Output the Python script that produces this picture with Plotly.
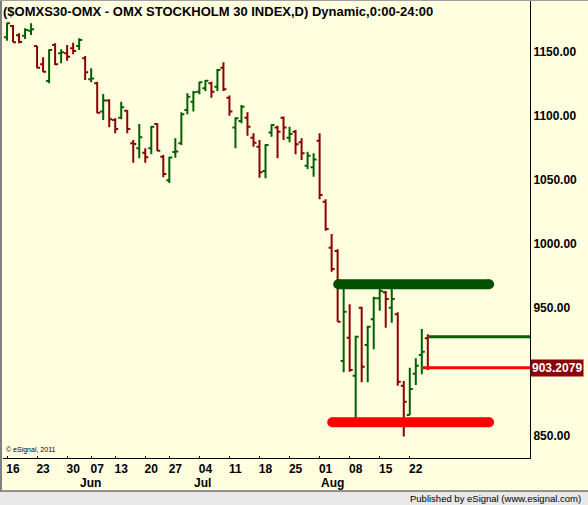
import pandas as pd
import plotly.graph_objects as go

title_text = "($OMXS30-OMX - OMX STOCKHOLM 30 INDEX,D) Dynamic,0:00-24:00"

# trading days (Stockholm closed on 2 Jun, 6 Jun, 24 Jun)
holidays = ["2011-06-02", "2011-06-06", "2011-06-24"]
dates = [d for d in pd.bdate_range("2011-05-16", "2011-08-25")
         if d.strftime("%Y-%m-%d") not in holidays]

opens = [1161.5, 1170.3, 1163.0, 1162.7, 1166.6, 1154.7, 1140.4, 1127.3, 1155.5, 1149.0,
         1149.0, 1152.9, 1154.7, 1145.1, 1128.6, 1125.5, 1103.4, 1112.0, 1096.9, 1098.7,
         1104.1, 1078.7, 1074.8, 1071.3, 1074.8, 1093.8, 1068.2, 1049.8, 1071.9, 1078.7,
         1104.7, 1111.2, 1119.0, 1121.6, 1125.5, 1122.9, 1137.7, 1114.3, 1090.9, 1096.1,
         1098.7, 1083.0, 1076.0, 1057.0, 1087.0, 1090.9, 1098.7, 1083.0, 1087.7, 1079.5,
         1061.2, 1060.0, 1080.6, 1033.0, 997.1, 994.5, 908.6, 926.8, 897.1, 950.2,
         921.1, 941.2, 957.6, 962.3, 950.2, 945.1, 889.3, 866.4, 898.7, 913.3,
         926.3]
highs = [1172.9, 1171.1, 1164.6, 1168.5, 1172.4, 1154.7, 1145.9, 1152.1, 1156.8, 1152.1,
         1155.5, 1157.3, 1160.7, 1146.9, 1137.3, 1126.8, 1117.2, 1113.0, 1098.2, 1111.2,
         1104.7, 1081.3, 1093.8, 1074.8, 1092.2, 1094.3, 1069.5, 1068.2, 1082.6, 1102.9,
         1117.7, 1119.5, 1126.8, 1128.1, 1126.8, 1136.7, 1142.0, 1115.9, 1099.0, 1108.6,
         1102.9, 1086.5, 1081.3, 1077.9, 1093.5, 1092.4, 1099.5, 1091.6, 1089.1, 1082.6,
         1072.1, 1070.9, 1086.5, 1035.0, 1007.8, 995.9, 965.4, 952.9, 928.4, 951.0,
         936.2, 958.8, 966.0, 963.3, 965.4, 946.6, 893.0, 903.4, 910.7, 933.6,
         929.5]
lows = [1158.8, 1157.6, 1156.8, 1160.2, 1163.3, 1137.3, 1134.1, 1125.5, 1139.8, 1141.2,
        1143.2, 1148.2, 1151.6, 1128.1, 1126.3, 1102.1, 1096.9, 1091.2, 1086.5, 1097.4,
        1086.5, 1063.5, 1067.0, 1063.5, 1070.1, 1072.7, 1052.1, 1047.7, 1067.4, 1077.3,
        1101.3, 1103.4, 1117.0, 1119.5, 1114.3, 1119.5, 1119.5, 1100.2, 1074.8, 1094.3,
        1084.6, 1076.0, 1051.8, 1051.3, 1083.8, 1067.0, 1081.3, 1079.5, 1070.1, 1065.6,
        1058.6, 1052.6, 1035.0, 1010.4, 978.4, 939.3, 899.8, 900.2, 859.1, 892.0,
        892.0, 917.7, 947.9, 934.6, 938.5, 889.3, 849.5, 866.4, 889.8, 898.2,
        901.6]
closes = [1172.4, 1157.6, 1157.8, 1167.2, 1167.7, 1137.7, 1134.6, 1151.6, 1140.4, 1149.8,
          1146.3, 1150.8, 1159.4, 1134.1, 1129.2, 1102.6, 1112.0, 1097.4, 1089.8, 1106.8,
          1089.8, 1078.1, 1083.4, 1067.7, 1091.6, 1072.9, 1054.7, 1067.6, 1072.3, 1101.3,
          1115.1, 1118.5, 1126.3, 1127.6, 1119.0, 1135.9, 1120.9, 1103.4, 1098.2, 1107.3,
          1091.6, 1079.1, 1056.0, 1077.3, 1093.0, 1087.7, 1090.9, 1085.9, 1077.9, 1070.9,
          1069.0, 1065.9, 1038.3, 1011.7, 980.5, 939.3, 947.1, 901.6, 927.6, 904.1,
          935.4, 957.6, 963.3, 957.0, 957.0, 892.4, 876.8, 886.7, 904.9, 915.9,
          903.2079]

resistance_level = 968.5
resistance_span = [55.1, 80.2]
support_level = 860.7
support_span = [54.1, 80.2]
upper_line_level = 927.6
upper_line_start = 70.2
last_close = closes[-1]

y_ticks = [850, 900, 950, 1000, 1050, 1100, 1150]

BG = "#FFFFE0"
UP = "#006000"
DOWN = "#8B0000"

x_idx = list(range(len(dates)))
x_lo, x_hi = -0.67, 87.0
y_lo, y_hi = 832.8, 1190.6

# week ticks: first trading day of every week
week_ticks, week_text = [], []
for i, d in enumerate(dates):
    if i == 0 or d.isocalendar()[1] != dates[i - 1].isocalendar()[1]:
        week_ticks.append(i)
        week_text.append(d.strftime("%d"))
month_ticks, month_text = [], []
for i, d in enumerate(dates):
    if i > 0 and d.month != dates[i - 1].month:
        month_ticks.append(i)
        month_text.append(d.strftime("%b"))

fig = go.Figure()

# horizontal zones (thick with round ends)
fig.add_trace(go.Scatter(
    x=resistance_span, y=[resistance_level] * 2, mode="lines+markers",
    line=dict(color="#005000", width=10), marker=dict(color="#005000", size=10),
    hoverinfo="skip", showlegend=False))
fig.add_trace(go.Scatter(
    x=support_span, y=[support_level] * 2, mode="lines+markers",
    line=dict(color="#FF0000", width=10), marker=dict(color="#FF0000", size=10),
    hoverinfo="skip", showlegend=False))
fig.add_trace(go.Scatter(
    x=[upper_line_start, x_hi], y=[upper_line_level] * 2, mode="lines",
    line=dict(color=UP, width=3), hoverinfo="skip", showlegend=False))
fig.add_trace(go.Scatter(
    x=[x_idx[-2] + 0.2, x_hi], y=[last_close] * 2, mode="lines",
    line=dict(color="#FF0000", width=3), hoverinfo="skip", showlegend=False))

fig.add_trace(go.Ohlc(
    x=x_idx, open=opens, high=highs, low=lows, close=closes,
    increasing_line_color=UP, decreasing_line_color=DOWN,
    line_width=2, tickwidth=0.5, showlegend=False))

bold12 = dict(family="Liberation Sans, Arial", size=12, color="black", weight="bold")

fig.update_layout(
    width=588, height=505,
    margin=dict(l=3, r=58, t=0, b=47),
    paper_bgcolor=BG, plot_bgcolor=BG,
    showlegend=False,
    xaxis=dict(range=[x_lo, x_hi], tickvals=week_ticks, ticktext=week_text,
               showgrid=False, zeroline=False, showline=True, linecolor="black",
               linewidth=1, ticks="inside", ticklen=2, tickcolor="black",
               tickfont=bold12, ticklabelshift=6, rangeslider=dict(visible=False),
               fixedrange=True),
    yaxis=dict(range=[y_lo, y_hi], side="right", tickvals=y_ticks,
               ticktext=["%.2f" % v for v in y_ticks],
               showgrid=False, zeroline=False, showline=True, linecolor="black",
               linewidth=1, ticks="", tickfont=bold12, fixedrange=True),
)

H = 458.0
W = 527.0
def px_x(x):
    return (x - 3) / W
def px_y(y):
    return (H - y) / H

# title
fig.add_annotation(text=title_text, xref="paper", yref="paper", x=px_x(1), y=px_y(2),
                   xanchor="left", yanchor="top", showarrow=False,
                   font=dict(bold12, size=13))
# month labels
for i, t in zip(month_ticks, month_text):
    fig.add_annotation(text=t, xref="x", yref="paper", x=i, y=px_y(474),
                       xanchor="left", yanchor="top", showarrow=False, xshift=-1,
                       font=bold12)
# last price label
fig.add_annotation(text="%.4f" % last_close, xref="paper", yref="y", x=1, y=last_close,
                   xanchor="left", yanchor="middle", showarrow=False,
                   bgcolor=DOWN, borderpad=1,
                   font=dict(family="Liberation Sans, Arial", size=12, color="white",
                             weight="bold"))
fig.add_annotation(text="\u00a9 eSignal, 2011", xref="paper", yref="paper",
                   x=px_x(4), y=px_y(450), xanchor="left", yanchor="middle",
                   showarrow=False,
                   font=dict(family="Liberation Sans, Arial", size=7, color="black"))

# footer strip and frame
fig.add_shape(type="rect", xref="paper", yref="paper", x0=px_x(0), x1=px_x(588),
              y0=px_y(505), y1=px_y(491), fillcolor="#E8E8E8",
              line=dict(width=0), layer="above")
fig.add_shape(type="line", xref="paper", yref="paper", x0=px_x(0), x1=px_x(588),
              y0=px_y(491), y1=px_y(491), line=dict(color="#303030", width=1))
fig.add_shape(type="line", xref="paper", yref="paper", x0=px_x(1), x1=px_x(1),
              y0=px_y(0), y1=px_y(491), line=dict(color="#808080", width=2))
fig.add_shape(type="line", xref="paper", yref="paper", x0=px_x(0), x1=px_x(588),
              y0=px_y(0.5), y1=px_y(0.5), line=dict(color="#A0A0A0", width=1))
fig.add_annotation(text="Published by eSignal (www.esignal.com)", xref="paper",
                   yref="paper", x=px_x(583), y=px_y(498), xanchor="right",
                   yanchor="middle", showarrow=False,
                   font=dict(family="Liberation Sans, Arial", size=9.5, color="black"))

fig.write_html("out.html", config={"displayModeBar": False},
               post_script="document.body.style.margin='0';")
